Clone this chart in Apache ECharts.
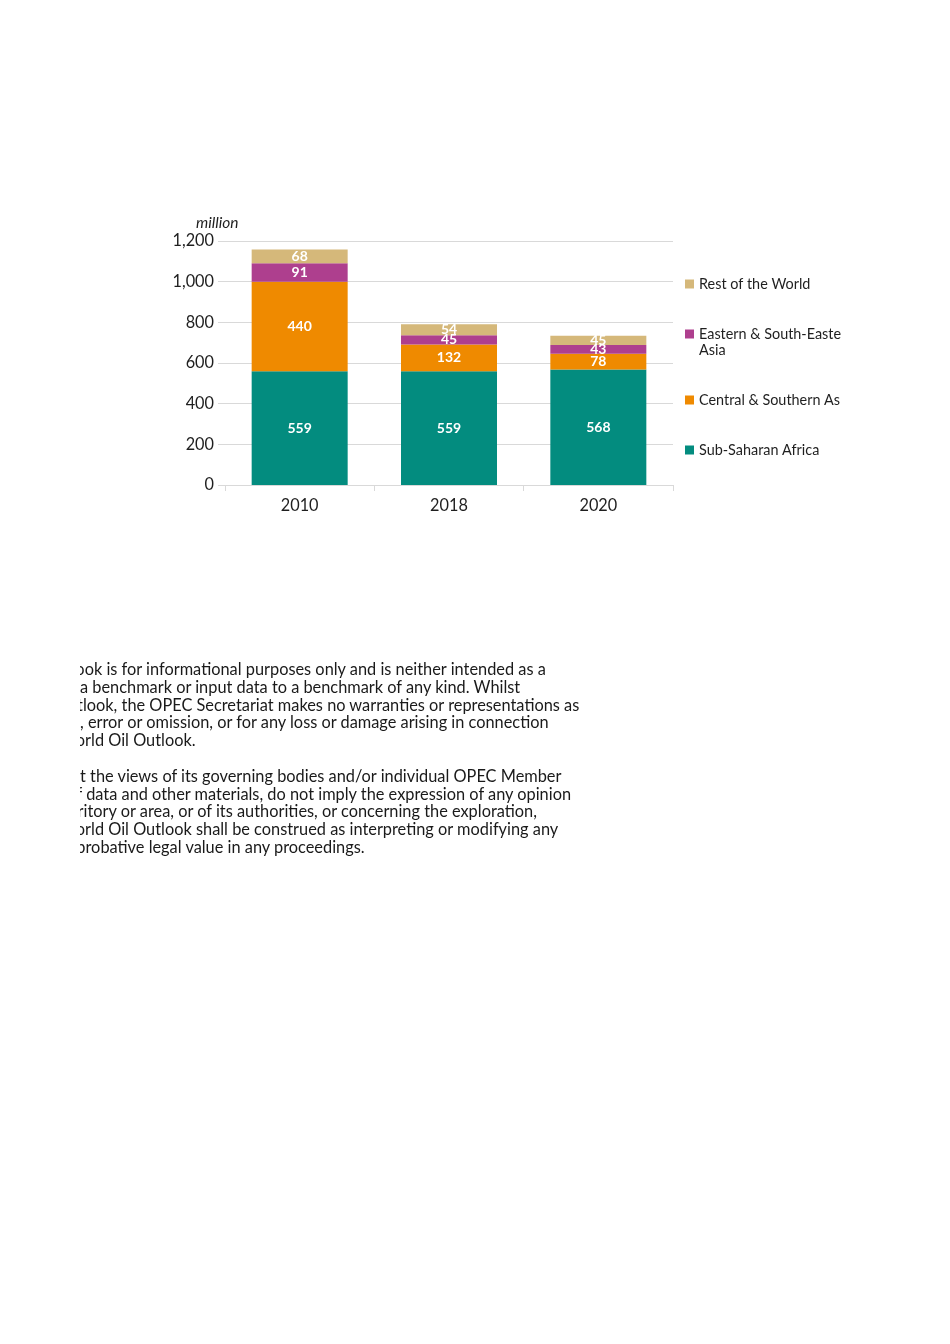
<!DOCTYPE html>
<html><head><meta charset="utf-8">
<script src="https://cdn.jsdelivr.net/npm/echarts@6/dist/echarts.min.js"></script>
<style>
html,body{margin:0;padding:0;background:#fff;}
#chart{position:absolute;left:0;top:0;width:950px;height:1344px;}
#note{position:absolute;left:80px;top:660px;width:620px;overflow:hidden;font-family:Lato,sans-serif;font-size:16.35px;color:#1a1a1a;}
#note div{white-space:pre;height:17.8px;line-height:17.8px;}
</style></head>
<body>
<div id="chart"></div>
<div id="note"></div>
<script>
const categories = ['2010', '2018', '2020'];
const seriesNames = ['Sub-Saharan Africa', 'Central & Southern Asia', 'Eastern & South-Eastern Asia', 'Rest of the World'];
const subSaharanAfrica = [559, 559, 568];
const centralSouthernAsia = [440, 132, 78];
const easternSouthEasternAsia = [91, 45, 43];
const restOfWorld = [68, 54, 45];
const yTicks = { min: 0, max: 1200, interval: 200 };
const unitLabel = 'million';
const noteLines = [
  ['o', 0.5, 'ok is for informational purposes only and is neither intended as a'],
  ['', 0, 'a benchmark or input data to a benchmark of any kind. Whilst'],
  ['t', 0.5, 'look, the OPEC Secretariat makes no warranties or representations as'],
  ['', 0, ', error or omission, or for any loss or damage arising in connection'],
  ['o', 0.45, 'rld Oil Outlook.'],
  ['', 0, ''],
  ['', 0, 't the views of its governing bodies and/or individual OPEC Member'],
  ['f', 0.6, ' data and other materials, do not imply the expression of any opinion'],
  ['r', 0.4, 'itory or area, or of its authorities, or concerning the exploration,'],
  ['o', 0.45, 'rld Oil Outlook shall be construed as interpreting or modifying any'],
  ['p', 0.4, 'robative legal value in any proceedings.']
];

const colors = ['#038c7f', '#ef8a00', '#ae3f8e', '#d5b87a'];
const dataSets = [subSaharanAfrica, centralSouthernAsia, easternSouthEasternAsia, restOfWorld];
const FONT = 'Lato, "Open Sans", sans-serif';
const TXT = '#1f1f1f';

const chart = echarts.init(document.getElementById('chart'), null, { renderer: 'canvas' });

const series = seriesNames.map((n, i) => ({
  name: n, type: 'bar', stack: 'total', barWidth: 96,
  data: dataSets[i],
  itemStyle: { color: colors[i] },
  label: { show: true, position: 'inside', color: '#fff', fontFamily: FONT, fontWeight: 'bold', fontSize: 14 },
  emphasis: { disabled: true }
}));

function legendAt(name, top, textWidth, extra) {
  return Object.assign({
    data: [name], left: 685, top: top, orient: 'vertical', padding: 0,
    itemWidth: 9, itemHeight: 9, itemGap: 5, icon: 'rect', selectedMode: false,
    textStyle: { fontFamily: FONT, fontSize: 14.4, lineHeight: 16, color: TXT, width: textWidth, overflow: 'truncate', ellipsis: '' }
  }, extra || {});
}

chart.setOption({
  animation: false,
  color: colors,
  title: { text: unitLabel, left: 196, top: 215, padding: 0, textStyle: { fontFamily: FONT, fontSize: 15.5, fontStyle: 'italic', fontWeight: 'normal', color: TXT } },
  grid: { left: 225, right: 277, top: 241, bottom: 859, containLabel: false },
  xAxis: {
    type: 'category', data: categories,
    axisLine: { lineStyle: { color: '#d9d9d9', width: 1 } },
    axisTick: { show: true, length: 6, lineStyle: { color: '#d9d9d9' } },
    axisLabel: { margin: 13, fontFamily: FONT, fontSize: 16.3, color: TXT }
  },
  yAxis: {
    type: 'value', min: yTicks.min, max: yTicks.max, interval: yTicks.interval,
    axisLine: { show: false },
    axisTick: { show: true, length: 7, lineStyle: { color: '#d9d9d9' } },
    splitLine: { lineStyle: { color: '#d9d9d9', width: 1 } },
    axisLabel: { margin: 11, fontFamily: FONT, fontSize: 16.3, color: TXT,
      formatter: v => v.toLocaleString('en-US') }
  },
  legend: [
    legendAt('Rest of the World', 276, 143),
    legendAt('Eastern & South-Eastern Asia', 310, 145.5, {
      formatter: () => '\nEastern & South-Eastern\nAsia'
    }),
    legendAt('Central & Southern Asia', 392, 143),
    legendAt('Sub-Saharan Africa', 442, 143)
  ],
  series: series
});

// disclaimer text (clipped at left as in the reference)
const note = document.getElementById('note');
const cv = document.createElement('canvas').getContext('2d');
cv.font = '16.35px Lato';
noteLines.forEach(([cut, frac, txt]) => {
  const d = document.createElement('div');
  d.textContent = cut + txt;
  const shift = cut ? cv.measureText(cut).width * frac : 0;
  d.style.transform = 'translateX(' + (-shift) + 'px)';
  note.appendChild(d);
});
</script>
</body></html>
